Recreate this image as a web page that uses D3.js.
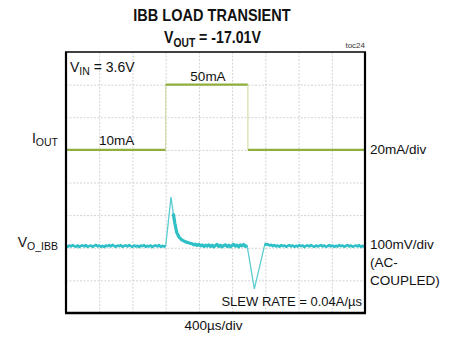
<!DOCTYPE html>
<html>
<head>
<meta charset="utf-8">
<script src="https://cdn.jsdelivr.net/npm/d3@7"></script>
<style>
  body { margin: 0; background: #fff; }
  svg text { font-family: "Liberation Sans", Arial, sans-serif; fill: #111; }
  .grid line { stroke: #d2d2d2; stroke-dasharray: 2,1.5; }
  .grid path { display: none; }
</style>
</head>
<body>
<div id="chart"></div>
<script>
(function(){
  'use strict';

  // data
  var timeRange = [0, 3600];            // us, 400us/div
  var gridTimes = [400, 800, 1200, 1600, 2000, 2400, 2800, 3200];
  var gridDivs = [1, 2, 3, 4, 5, 6, 7];  // vertical divisions

  // IOUT steps, [us, mA]
  var iOut = [
    [0, 10], [1200, 10], [1200, 50], [2190, 50], [2190, 10], [3600, 10]
  ];

  // VO_IBB, ac coupled, [us, mV]
  var vOut = [
    [0,1],[20,-2],[40,2],[60,-1],[80,3],[100,0],[120,-2],[140,2],[160,-3],[180,1],
    [200,2],[220,-1],[240,3],[260,-2],[280,0],[300,2],[320,-2],[340,1],[360,4],[380,-1],
    [400,2],[420,-2],[440,1],[460,-3],[480,2],[500,0],[520,3],[540,-1],[560,4],[580,1],
    [600,-2],[620,2],[640,0],[660,3],[680,-2],[700,1],[720,2],[740,-1],[760,3],[780,0],
    [800,-2],[820,2],[840,-1],[860,1],[880,-3],[900,2],[920,0],[940,3],[960,-2],[980,1],
    [1000,-1],[1020,2],[1040,-3],[1060,1],[1080,2],[1100,-1],[1120,3],[1140,-2],[1160,1],[1180,-1],
    [1200,0],
    [1264,150],[1280,122],[1292,100],[1310,70],[1333,42],[1360,28],[1393,19],[1440,13],[1493,9],
    [1520,7],[1540,4],[1560,6],[1580,2],[1600,5],[1620,1],[1640,4],[1660,-1],[1680,3],[1700,0],
    [1720,4],[1740,-1],[1760,3],[1780,-2],[1800,2],[1820,5],[1840,-1],[1860,3],[1880,-2],[1900,2],
    [1920,4],[1940,-1],[1960,3],[1980,-2],[2000,2],[2020,5],[2040,0],[2060,3],[2080,-2],[2100,4],
    [2120,1],[2140,5],[2160,-1],[2180,2],
    [2268,-131],
    [2396,8],[2410,4],[2430,6],[2450,2],[2470,4],[2490,0],[2510,3],[2530,-1],[2550,2],[2570,-2],
    [2590,3],[2610,0],[2630,2],[2650,-2],[2670,1],[2690,3],[2710,-1],[2730,2],[2750,-2],[2770,1],
    [2790,-1],[2810,3],[2830,0],[2850,2],[2870,-3],[2890,1],[2910,2],[2930,-1],[2950,3],[2970,0],
    [2990,-2],[3010,2],[3030,-1],[3050,1],[3070,3],[3090,-1],[3110,2],[3130,-2],[3150,0],[3170,3],
    [3190,-1],[3210,2],[3230,-2],[3250,1],[3270,-1],[3290,3],[3310,0],[3330,2],[3350,-2],[3370,1],
    [3390,3],[3410,-1],[3430,2],[3450,-2],[3470,0],[3490,2],[3510,-1],[3530,3],[3550,-2],[3570,1],
    [3590,-1],[3600,1]
  ];
  // slow (noisy) parts of the voltage trace; the rest is fast edges
  var vSlow = [[0, 1200, 2.6], [1292, 2180, 3.2], [2396, 3600, 2.6]];

  var W = 454, H = 338,
      L = 66, R = 365, T = 52, B = 313;

  var svg = d3.select('#chart').append('svg')
    .attr('width', W)
    .attr('height', H);

  var x = d3.scaleLinear().domain(timeRange).range([L, R]);
  var yDiv = d3.scaleLinear().domain([0, 8]).range([B, T]);
  var yI = d3.scaleLinear().domain([-90, 70]).range([B, T]);     // mA, 20mA/div
  var yV = d3.scaleLinear().domain([-205, 595]).range([B, T]);   // mV, 100mV/div

  // grid
  svg.append('g')
    .attr('class', 'grid')
    .attr('transform', 'translate(0,' + B + ')')
    .call(d3.axisBottom(x).tickValues(gridTimes).tickSize(-(B - T)).tickFormat(''));

  svg.append('g')
    .attr('class', 'grid')
    .attr('transform', 'translate(' + L + ',0)')
    .call(d3.axisLeft(yDiv).tickValues(gridDivs).tickSize(-(R - L)).tickFormat(''));

  // IOUT trace
  var line = d3.line();
  for (var i = 1; i < iOut.length; i += 1) {
    var a = iOut[i - 1], b = iOut[i];
    var edge = a[0] === b[0];
    svg.append('path')
      .attr('d', line([[x(a[0]), yI(a[1])], [x(b[0]), yI(b[1])]]))
      .style('fill', 'none')
      .style('stroke', edge ? '#c9d99c' : '#8fae3c')
      .style('stroke-width', edge ? 1 : 2.2);
  }

  // VO_IBB trace: thin full line, then thick noisy parts
  var vLine = d3.line()
    .x(function(d) { return x(d[0]); })
    .y(function(d) { return yV(d[1]); });

  svg.append('path')
    .attr('d', vLine(vOut))
    .style('fill', 'none')
    .style('stroke', '#5ccdd2')
    .style('stroke-width', 1.3);

  vSlow.forEach(function(s) {
    var pts = vOut.filter(function(d) { return d[0] >= s[0] && d[0] <= s[1]; });
    svg.append('path')
      .attr('d', vLine(pts))
      .style('fill', 'none')
      .style('stroke', '#2ec0c6')
      .style('stroke-width', s[2])
      .style('stroke-linejoin', 'round');
  });

  // frame
  var frame = svg.append('g').style('stroke', '#000');
  frame.append('line').attr('x1', L - 1).attr('x2', R + 1).attr('y1', T).attr('y2', T).style('stroke-width', 1.5);
  frame.append('line').attr('x1', L - 1).attr('x2', R + 1).attr('y1', B).attr('y2', B).style('stroke-width', 2.4);
  frame.append('line').attr('x1', L).attr('x2', L).attr('y1', T).attr('y2', B).style('stroke-width', 2.2);
  frame.append('line').attr('x1', R).attr('x2', R).attr('y1', T).attr('y2', B).style('stroke-width', 2.2);

  // titles
  svg.append('text')
    .attr('transform', 'translate(212,21) scale(0.84,1)')
    .attr('text-anchor', 'middle')
    .style('font-size', '17.3px')
    .style('font-weight', 'bold')
    .text('IBB LOAD TRANSIENT');

  var t2 = svg.append('text')
    .attr('transform', 'translate(212.5,43) scale(0.82,1)')
    .attr('text-anchor', 'middle')
    .style('font-size', '17.3px')
    .style('font-weight', 'bold');
  t2.append('tspan').text('V');
  t2.append('tspan').attr('dy', 4).style('font-size', '12.5px').text('OUT');
  t2.append('tspan').attr('dy', -4).text(' = -17.01V');

  svg.append('text')
    .attr('x', 365).attr('y', 48)
    .attr('text-anchor', 'end')
    .style('font-size', '8px')
    .style('fill', '#333')
    .text('toc24');

  // labels with subscripts
  function subLabel(px, py, anchor, main, sub, rest) {
    var t = svg.append('text')
      .attr('x', px).attr('y', py)
      .attr('text-anchor', anchor)
      .style('font-size', '14px');
    t.append('tspan').text(main);
    t.append('tspan').attr('dy', 3).style('font-size', '10.5px').text(sub);
    if (rest) t.append('tspan').attr('dy', -3).text(rest);
  }

  function label(px, py, anchor, txt, size) {
    svg.append('text')
      .attr('x', px).attr('y', py)
      .attr('text-anchor', anchor)
      .style('font-size', (size || 13.5) + 'px')
      .text(txt);
  }

  subLabel(70, 71.5, 'start', 'V', 'IN', ' = 3.6V');
  subLabel(58, 143, 'end', 'I', 'OUT');
  subLabel(58, 247, 'end', 'V', 'O_IBB');

  label(208, 80.5, 'middle', '50mA');
  label(99, 145, 'start', '10mA');
  label(370, 154, 'start', '20mA/div');
  label(370, 249, 'start', '100mV/div');
  label(370, 267, 'start', '(AC-');
  label(370, 285, 'start', 'COUPLED)');
  label(362, 306, 'end', 'SLEW RATE = 0.04A/\u00b5s', 13);
  label(213.5, 330, 'middle', '400\u00b5s/div');

}());
</script>
</body>
</html>
